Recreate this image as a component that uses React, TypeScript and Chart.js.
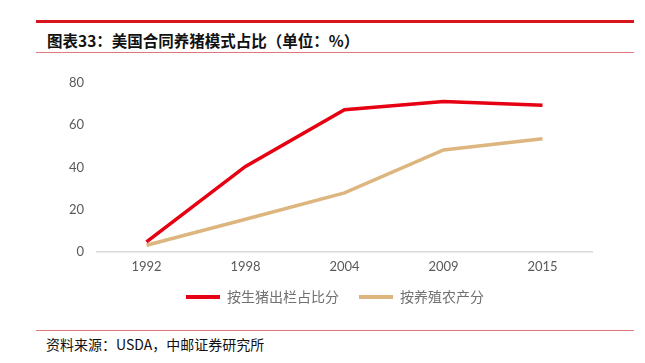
import React, { useEffect, useRef } from "react";
import { Chart, registerables } from "chart.js";

Chart.register(...registerables);

const categories = ["1992", "1998", "2004", "2009", "2015"];
const byHogSales = [4.8, 40.5, 67.3, 71.2, 69.5];
const byFarms = [3.2, 15.5, 28, 48.3, 53.6];
const seriesNames = ["按生猪出栏占比分", "按养殖农产分"];
const yTicks = [0, 20, 40, 60, 80];

const RED = "#E60012";
const TAN = "#DDB57E";

const legendShift = {
  id: "legendShift",
  afterLayout(chart: any) {
    const l = chart.legend;
    if (l) {
      l.left += 9;
      l.right += 9;
      l.top -= 4;
      l.bottom -= 4;
    }
  },
};

export default function App() {
  const ref = useRef<HTMLCanvasElement | null>(null);
  useEffect(() => {
    if (!ref.current) return;
    const chart = new Chart(ref.current, {
      type: "line",
      data: {
        labels: categories,
        datasets: [
          {
            label: seriesNames[0],
            data: byHogSales,
            borderColor: RED,
            backgroundColor: RED,
            borderWidth: 3.5,
            pointRadius: 0,
            tension: 0,
          },
          {
            label: seriesNames[1],
            data: byFarms,
            borderColor: TAN,
            backgroundColor: TAN,
            borderWidth: 3.5,
            pointRadius: 0,
            tension: 0,
          },
        ],
      },
      plugins: [legendShift],
      options: {
        animation: false,
        responsive: false,
        maintainAspectRatio: false,
        layout: { padding: { left: 60, right: 53, top: 23, bottom: 2 } },
        plugins: {
          tooltip: { enabled: false },
          legend: {
            position: "bottom",
            labels: {
              boxWidth: 34,
              boxHeight: 4,
              padding: 20,
              color: "#707070",
              font: { family: "'Noto Sans CJK SC'", size: 14 },
              generateLabels: (c: any) =>
                c.data.datasets.map((d: any, i: number) => ({
                  text: d.label,
                  fillStyle: d.borderColor,
                  strokeStyle: d.borderColor,
                  lineWidth: 0,
                  hidden: false,
                  datasetIndex: i,
                  fontColor: "#707070",
                })),
            },
          },
        },
        scales: {
          x: {
            offset: true,
            afterFit: (s: any) => {
              s.height = 22;
            },
            grid: { display: false, drawTicks: false },
            border: { display: true, color: "#D9D9D9", width: 1.5 },
            ticks: {
              padding: 7,
              color: "#595959",
              font: { family: "Lato", size: 13 },
            },
          },
          y: {
            min: 0,
            max: 80,
            afterFit: (s: any) => {
              s.width = 37;
            },
            afterBuildTicks: (s: any) => {
              s.ticks = yTicks.map((v) => ({ value: v }));
            },
            grid: { display: false, drawTicks: false },
            border: { display: false },
            ticks: {
              padding: 13,
              color: "#595959",
              font: { family: "Lato", size: 13 },
            },
          },
        },
      },
    });
    return () => chart.destroy();
  }, []);

  return (
    <div
      style={{
        position: "fixed",
        left: 0,
        top: 0,
        width: 645,
        height: 363,
        background: "#fff",
        fontFamily: "'Noto Sans CJK SC', sans-serif",
      }}
    >
      <div style={{ position: "absolute", left: 36, top: 20, width: 598, height: 3, background: "#D7151B" }} />
      <div
        style={{
          position: "absolute",
          left: 47,
          top: 30,
          fontSize: 15.5,
          fontWeight: "bold",
          color: "#111",
          lineHeight: "20px",
          whiteSpace: "nowrap",
        }}
      >
        图表33：美国合同养猪模式占比（单位：%）
      </div>
      <div style={{ position: "absolute", left: 36, top: 52, width: 598, height: 1, background: "#E0777A" }} />
      <canvas
        ref={ref}
        width={645}
        height={260}
        style={{ position: "absolute", left: 0, top: 60, width: 645, height: 260 }}
      />
      <div style={{ position: "absolute", left: 36, top: 330, width: 598, height: 1, background: "#E0777A" }} />
      <div
        style={{
          position: "absolute",
          left: 46,
          top: 335,
          fontSize: 14,
          color: "#111",
          lineHeight: "18px",
          whiteSpace: "nowrap",
        }}
      >
        资料来源：USDA，中邮证券研究所
      </div>
    </div>
  );
}
